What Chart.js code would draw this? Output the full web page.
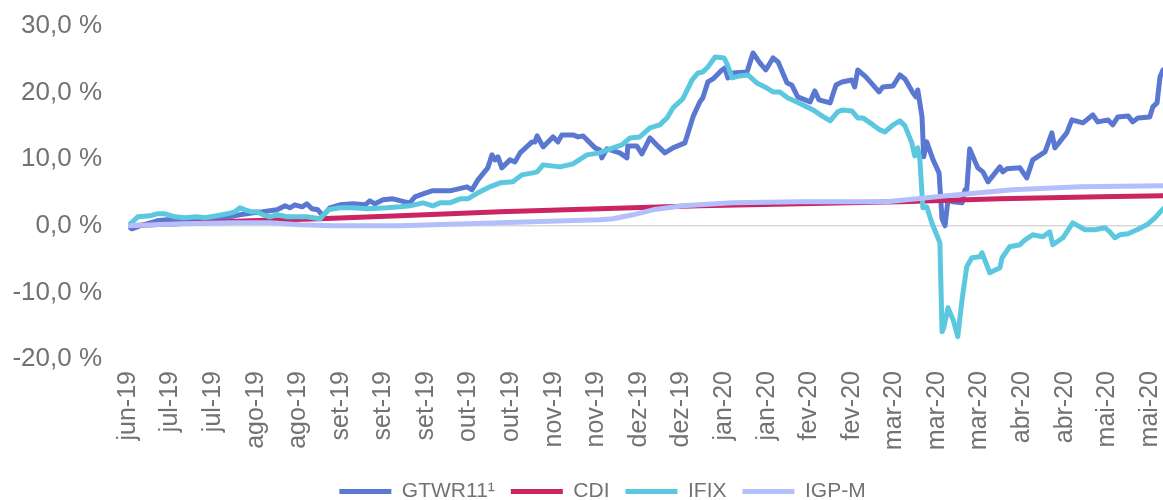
<!DOCTYPE html>
<html>
<head>
<meta charset="utf-8">
<script src="https://cdn.jsdelivr.net/npm/chart.js@4.4.1/dist/chart.umd.min.js"></script>
<style>
html,body{margin:0;padding:0;overflow:hidden;background:#ffffff;}
#wrap{position:relative;width:1163px;height:512px;}
</style>
</head>
<body>
<div id="wrap"><canvas id="c" width="1163" height="512"></canvas></div>
<script>
// Tick labels (one every ~10 business days)
const tickLabels = ['jun-19','jul-19','jul-19','ago-19','ago-19','set-19','set-19','set-19','out-19','out-19',
  'nov-19','nov-19','dez-19','dez-19','jan-20','jan-20','fev-20','fev-20','mar-20','mar-20','mar-20',
  'abr-20','abr-20','mai-20','mai-20'];
const seriesNames = ['GTWR11\u00B9','CDI','IFIX','IGP-M'];

// x positions in tick units, y values in %
const gtwrX = [0,0.09,0.28,0.68,0.92,1.39,1.86,2.40,2.63,2.94,3.17,3.50,3.69,3.80,3.92,4.09,4.20,4.32,4.46,4.58,4.74,4.98,5.28,5.57,5.68,5.80,5.99,6.22,6.51,6.62,6.74,6.93,7.14,7.56,7.96,8.08,8.22,8.45,8.55,8.62,8.69,8.78,8.97,9.09,9.21,9.49,9.56,9.61,9.75,9.98,10.10,10.19,10.45,10.57,10.69,10.97,11.08,11.13,11.25,11.55,11.72,11.74,11.95,12.07,12.26,12.42,12.61,12.80,13.08,13.27,13.43,13.50,13.62,13.74,13.95,14.02,14.09,14.21,14.54,14.68,14.84,14.98,15.15,15.27,15.48,15.59,15.73,16.02,16.13,16.23,16.49,16.63,16.77,17.00,17.07,17.14,17.33,17.64,17.73,17.97,18.13,18.25,18.44,18.51,18.55,18.65,18.69,18.76,18.91,19.05,19.12,19.19,19.26,19.38,19.59,19.66,19.70,19.77,19.96,20.08,20.20,20.48,20.55,20.64,20.95,21.11,21.25,21.54,21.70,21.77,22.05,22.17,22.43,22.66,22.78,23.02,23.13,23.25,23.49,23.60,23.72,24.00,24.07,24.17,24.24,24.31];
const gtwrY = [0,-0.45,0,0.75,0.9,0.75,0.9,1.35,1.65,1.95,2.1,2.4,3.0,2.7,3.15,2.85,3.3,2.55,2.4,1.5,2.7,3.15,3.3,3.15,3.75,3.3,3.9,4.05,3.6,3.45,4.35,4.8,5.25,5.25,5.85,5.4,6.9,8.7,10.65,9.9,10.35,8.7,9.9,9.6,10.95,12.6,12.6,13.5,11.85,13.35,12.6,13.65,13.65,13.35,13.5,11.7,11.4,10.2,11.55,10.95,10.2,12.0,12.0,10.8,13.2,12.15,10.95,11.7,12.45,16.35,18.6,19.2,21.6,22.05,23.4,23.7,22.2,22.95,23.1,25.95,24.45,23.4,25.2,24.6,21.45,21.15,19.35,18.6,20.25,18.9,18.45,21.15,21.6,21.9,20.85,23.4,22.35,20.1,20.85,21.0,22.65,22.05,19.95,19.35,20.4,16.35,10.35,12.6,9.9,7.95,1.05,0,3.9,3.6,3.45,5.4,5.4,11.55,8.7,8.1,6.6,8.85,8.1,8.55,8.7,7.2,9.9,11.1,13.95,11.7,13.95,15.9,15.45,16.65,15.6,15.9,15.15,16.35,16.5,15.6,16.2,16.35,17.85,18.45,22.35,23.4];

const cdiX = [0,2.87,4.51,6.39,8.74,11.08,13.43,15.78,18.13,20.48,22.83,24.31];
const cdiY = [0,0.75,1.05,1.5,2.1,2.55,3.0,3.3,3.6,4.05,4.35,4.5];

const ifixX = [0,0.23,0.52,0.68,0.87,1.10,1.34,1.62,1.81,2.09,2.33,2.51,2.63,2.75,2.91,3.03,3.17,3.33,3.50,3.73,3.97,4.20,4.51,4.70,4.98,5.28,5.61,6.08,6.39,6.62,6.93,7.16,7.33,7.56,7.80,7.98,8.22,8.50,8.74,9.04,9.25,9.51,9.61,9.75,10.15,10.45,10.78,11.08,11.39,11.60,11.79,12.02,12.26,12.49,12.66,12.80,13.03,13.25,13.39,13.50,13.62,13.79,14.00,14.07,14.19,14.37,14.56,14.77,14.96,15.15,15.31,15.50,15.71,15.95,16.09,16.30,16.49,16.67,16.79,17.00,17.14,17.26,17.50,17.66,17.78,17.97,18.13,18.25,18.41,18.48,18.55,18.60,18.67,18.76,18.88,19.07,19.12,19.16,19.26,19.38,19.49,19.59,19.70,19.82,20.01,20.06,20.24,20.48,20.53,20.71,20.95,21.07,21.25,21.49,21.65,21.72,21.96,22.19,22.48,22.71,22.95,23.06,23.18,23.30,23.49,23.70,23.93,24.12,24.31];
const ifixY = [0,1.35,1.5,1.8,1.8,1.35,1.2,1.35,1.2,1.5,1.8,2.1,2.7,2.4,2.1,2.1,1.65,1.35,1.65,1.35,1.35,1.35,1.05,2.4,2.7,2.7,2.55,2.7,2.85,3.0,3.45,3.0,3.45,3.45,4.05,4.05,4.95,5.85,6.45,6.6,7.65,7.95,8.1,9.15,8.85,9.3,10.65,10.95,11.7,12.15,13.2,13.35,14.7,15.15,16.2,17.7,19.05,21.9,22.95,23.1,23.85,25.35,25.2,24.3,22.2,22.5,22.65,21.45,20.85,20.1,20.1,19.2,18.6,17.85,17.4,16.5,15.75,17.1,17.4,17.25,16.2,16.2,15.15,14.4,14.1,15.15,15.75,15.0,12.45,10.5,11.7,9.9,2.7,2.85,0.45,-2.55,-15.9,-15.3,-12.3,-14.1,-16.65,-11.1,-6.15,-4.8,-4.65,-4.05,-7.05,-6.3,-4.8,-3.15,-2.85,-2.1,-1.35,-1.65,-0.9,-2.85,-1.8,0.45,-0.6,-0.6,-0.3,-0.9,-1.8,-1.35,-1.2,-0.6,0.15,1.2,2.55];

const igpmX = [0,1.22,2.47,3.33,4.04,4.81,6.39,7.96,9.51,11.08,11.39,11.86,12.33,13.03,14.21,15.78,17.83,19.23,20.78,22.36,24.31];
const igpmY = [0,0.3,0.45,0.45,0.15,0,0,0.3,0.6,0.9,1.05,1.65,2.4,3.0,3.45,3.6,3.6,4.5,5.4,5.85,6.0];

const colors = ['#5A77D2','#CC2361','#5BC8DF','#B3BFFA'];

function pts(xs, ys){ return xs.map((x,i)=>({x:x, y:ys[i]})); }

const txtColor = '#767171';
const fam = "'Liberation Sans', Arial, sans-serif";

const datasets = [
  {label:seriesNames[0], data:pts(gtwrX,gtwrY), borderColor:colors[0], backgroundColor:colors[0], order:4},
  {label:seriesNames[1], data:pts(cdiX,cdiY), borderColor:colors[1], backgroundColor:colors[1], order:3},
  {label:seriesNames[2], data:pts(ifixX,ifixY), borderColor:colors[2], backgroundColor:colors[2], order:2},
  {label:seriesNames[3], data:pts(igpmX,igpmY), borderColor:colors[3], backgroundColor:colors[3], order:1}
].map(d=>Object.assign(d,{borderWidth:5, pointRadius:0, tension:0, borderCapStyle:'round', borderJoinStyle:'round', fill:false}));

// shifts the legend row horizontally to where the reference places it
const legendShift = {
  id:'legendShift',
  afterLayout(chart){ const l = chart.legend; if(l){ l.left += 21; l.right += 21; } }
};

new Chart(document.getElementById('c'), {
  type:'line',
  data:{datasets:datasets},
  plugins:[legendShift],
  options:{
    responsive:false,
    animation:false,
    layout:{padding:{top:26,left:0,right:0,bottom:0}},
    plugins:{
      tooltip:{enabled:false},
      legend:{
        position:'bottom',
        labels:{
          usePointStyle:true,
          pointStyle:'line',
          pointStyleWidth:52,
          padding:16,
          color:txtColor,
          font:{family:fam, size:21},
          sort:(a,b)=>a.datasetIndex-b.datasetIndex
        }
      }
    },
    scales:{
      x:{
        type:'linear',
        min:0,
        max:24.31,
        grid:{display:false, drawTicks:false},
        border:{display:false},
        ticks:{
          stepSize:1,
          includeBounds:false,
          autoSkip:false,
          maxRotation:90,
          minRotation:90,
          padding:12,
          color:txtColor,
          font:{family:fam, size:25},
          callback:(v)=>{ const i=Math.round(v); return Math.abs(v-i)<1e-6 && tickLabels[i]!==undefined ? tickLabels[i] : null; }
        },
        afterFit:(s)=>{ s.height = 106; s.paddingLeft = 0; s.paddingRight = 0; }
      },
      y:{
        min:-20,
        max:30,
        grid:{
          drawTicks:false,
          color:(ctx)=> (ctx.tick && ctx.tick.value===0) ? '#D9D9D9' : 'rgba(0,0,0,0)',
          lineWidth:1.5
        },
        border:{display:false},
        ticks:{
          stepSize:10,
          padding:26,
          color:txtColor,
          font:{family:fam, size:26},
          callback:(v)=> v.toFixed(1).replace('.',',') + ' %'
        },
        afterFit:(s)=>{ s.width = 128; s.paddingTop = 0; s.paddingBottom = 0; }
      }
    }
  }
});
</script>
</body>
</html>
